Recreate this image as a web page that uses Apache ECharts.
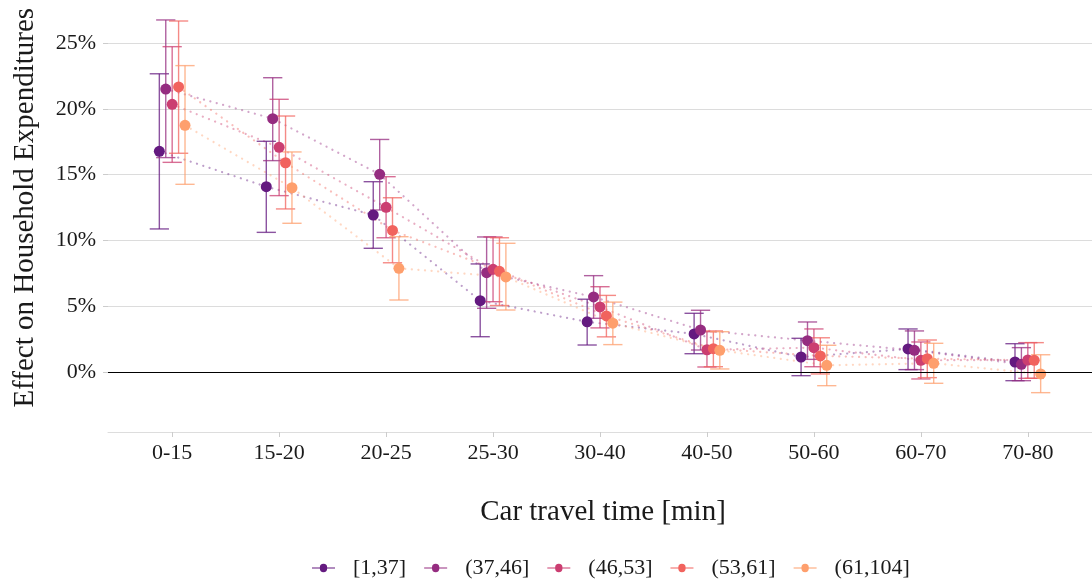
<!DOCTYPE html>
<html>
<head>
<meta charset="utf-8">
<script src="https://cdn.jsdelivr.net/npm/echarts@6/dist/echarts.min.js"></script>
<style>
  html, body { margin: 0; padding: 0; background: #ffffff; }
  #chart { width: 1092px; height: 583px; }
</style>
</head>
<body>
<div id="chart"></div>
<script>
// ---- data (percent) ----
const categories = ['0-15', '15-20', '20-25', '25-30', '30-40', '40-50', '50-60', '60-70', '70-80'];
const groupNames = ['[1,37]', '(37,46]', '(46,53]', '(53,61]', '(61,104]'];
const yTicks = [0, 5, 10, 15, 20, 25];

const est1 = [16.77, 14.08, 11.93, 5.42, 3.81, 2.89, 1.14, 1.75, 0.76];
const lo1  = [10.87, 10.61, 9.40, 2.68, 2.05, 1.39, -0.28, 0.18, -0.66];
const hi1  = [22.66, 17.53, 14.46, 8.21, 5.53, 4.46, 2.56, 3.27, 2.15];

const est2 = [21.50, 19.25, 15.02, 7.55, 5.70, 3.19, 2.38, 1.65, 0.58];
const lo2  = [16.29, 16.06, 12.31, 4.84, 4.08, 1.67, 0.96, 0.18, -0.66];
const hi2  = [26.75, 22.36, 17.67, 10.26, 7.32, 4.69, 3.80, 3.12, 1.85];

const est3 = [20.34, 17.07, 12.51, 7.80, 4.94, 1.69, 1.85, 0.89, 0.91];
const lo3  = [15.93, 13.40, 10.20, 5.34, 3.35, 0.38, 0.40, -0.53, -0.48];
const hi3  = [24.72, 20.72, 14.84, 10.26, 6.48, 3.06, 3.27, 2.28, 2.23];

const est4 = [21.66, 15.90, 10.76, 7.65, 4.26, 1.77, 1.22, 1.01, 0.89];
const lo4  = [16.62, 12.39, 8.30, 5.05, 2.67, 0.40, -0.15, -0.43, -0.48];
const hi4  = [26.67, 19.45, 13.24, 10.20, 5.82, 3.12, 2.60, 2.43, 2.23];

const est5 = [18.74, 14.00, 7.88, 7.22, 3.71, 1.65, 0.51, 0.66, -0.15];
const lo5  = [14.26, 11.30, 5.47, 4.71, 2.08, 0.23, -1.04, -0.86, -1.57];
const hi5  = [23.28, 16.72, 10.28, 9.78, 5.31, 3.06, 2.03, 2.18, 1.31];

// ---- styling ----
const colors = ['#641A80', '#952C80', '#CB3E71', '#F1635E', '#FE9F6D'];
const FONT = '"Liberation Serif", "DejaVu Serif", serif';
const ests = [est1, est2, est3, est4, est5];
const los = [lo1, lo2, lo3, lo4, lo5];
const his = [hi1, hi2, hi3, hi4, hi5];
const dodge = [-0.12, -0.06, 0, 0.06, 0.12];
const capHalf = 0.09;
const legendIcon = 'path://M0,4.5H7.5A3.5,3.5 0 0 1 14.5,4.5H22V5.5H14.5A3.5,3.5 0 0 1 7.5,5.5H0Z';

const series = [];
// dotted connecting lines
groupNames.forEach((g, i) => {
  series.push({
    type: 'line',
    name: g + '_line',
    data: ests[i].map((v, k) => [k + 1 + dodge[i], v]),
    showSymbol: false,
    symbol: 'none',
    silent: true,
    z: 1,
    lineStyle: { color: colors[i], width: 2.2, type: [0.1, 6.5], opacity: 0.42, cap: 'round' },
    markLine: i === 0 ? {
      silent: true, symbol: 'none', label: { show: false },
      lineStyle: { color: '#000000', width: 1.2, type: 'solid' },
      data: [{ yAxis: 0 }]
    } : undefined
  });
});
// error bars
groupNames.forEach((g, i) => {
  series.push({
    type: 'custom',
    name: g + '_err',
    silent: true,
    z: 2,
    data: ests[i].map((v, k) => [k + 1 + dodge[i], los[i][k], his[i][k]]),
    encode: { x: 0, y: [1, 2] },
    renderItem: function (params, api) {
      const x = api.value(0);
      const pLo = api.coord([x, api.value(1)]);
      const pHi = api.coord([x, api.value(2)]);
      const hw = api.size([capHalf, 0])[0];
      const st = { stroke: colors[i], lineWidth: 1.4, opacity: 0.75 };
      return {
        type: 'group',
        children: [
          { type: 'line', shape: { x1: pLo[0], y1: pLo[1], x2: pHi[0], y2: pHi[1] }, style: st },
          { type: 'line', shape: { x1: pLo[0] - hw, y1: pLo[1], x2: pLo[0] + hw, y2: pLo[1] }, style: st },
          { type: 'line', shape: { x1: pHi[0] - hw, y1: pHi[1], x2: pHi[0] + hw, y2: pHi[1] }, style: st }
        ]
      };
    }
  });
});
// points
groupNames.forEach((g, i) => {
  series.push({
    type: 'scatter',
    name: g,
    z: 3,
    symbol: 'circle',
    symbolSize: 11,
    itemStyle: { color: colors[i], opacity: 1 },
    data: ests[i].map((v, k) => [k + 1 + dodge[i], v])
  });
});

const option = {
  animation: false,
  backgroundColor: '#ffffff',
  grid: { left: 108, right: -2, top: 3.5, bottom: 151, containLabel: false },
  legend: {
    top: 552,
    left: 307,
    itemWidth: 23,
    itemHeight: 10,
    itemGap: 18,
    textStyle: { fontFamily: FONT, fontSize: 22, color: '#1a1a1a', padding: [0, 0, 0, 13] },
    data: groupNames.map((g, i) => ({ name: g, icon: legendIcon, itemStyle: { color: colors[i] } }))
  },
  xAxis: {
    type: 'value',
    min: 0.4,
    max: 9.6,
    name: 'Car travel time [min]',
    nameLocation: 'middle',
    nameGap: 66,
    nameTextStyle: { fontFamily: FONT, fontSize: 29, color: '#1a1a1a', padding: [0, 0, 0, 6] },
    axisLine: { show: true, onZero: false, lineStyle: { color: '#dddddd', width: 1 } },
    axisTick: { show: true, length: 5, customValues: [1, 2, 3, 4, 5, 6, 7, 8, 9], lineStyle: { color: '#cccccc' } },
    axisLabel: {
      customValues: [1, 2, 3, 4, 5, 6, 7, 8, 9],
      formatter: v => categories[Math.round(v) - 1],
      fontFamily: FONT, fontSize: 22, color: '#1a1a1a', margin: 10
    },
    splitLine: { show: false }
  },
  yAxis: {
    type: 'value',
    min: -4.56,
    max: 28,
    name: 'Effect on Household Expenditures',
    nameLocation: 'middle',
    nameGap: 68,
    nameTextStyle: { fontFamily: FONT, fontSize: 29, color: '#1a1a1a', padding: [0, 0, 0, 20] },
    axisLine: { show: false },
    axisTick: { show: true, length: 5, customValues: yTicks, lineStyle: { color: '#cccccc' } },
    axisLabel: {
      customValues: yTicks,
      formatter: v => Math.round(v) + '%',
      fontFamily: FONT, fontSize: 22, color: '#1a1a1a', margin: 12
    },
    splitLine: { show: true, lineStyle: { color: '#dcdcdc', width: 1 } }
  },
  series: series
};

const chart = echarts.init(document.getElementById('chart'), null, { renderer: 'canvas' });
chart.setOption(option);
</script>
</body>
</html>
